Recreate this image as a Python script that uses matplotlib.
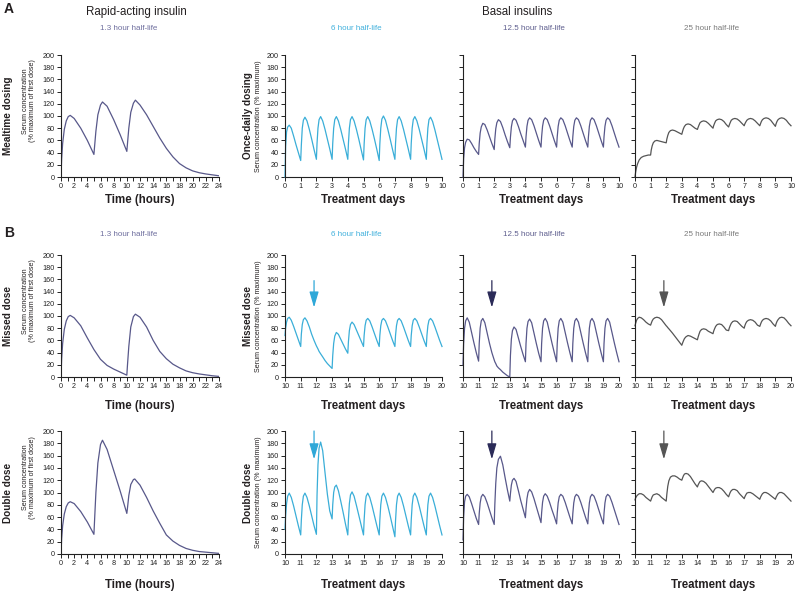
import matplotlib.pyplot as plt
from matplotlib.ticker import MultipleLocator

plt.rcParams['font.family'] = ['Liberation Sans', 'DejaVu Sans']

W, H = 796, 591

# ---- rapid-acting insulin (1.3 h half-life), hours 0-24 ----
mealtime_hours = [0, 0.1, 0.25, 0.5, 0.8, 1.1, 1.4, 2, 3, 4, 5, 5.1, 5.3, 5.6, 6.0, 6.3, 7, 8, 9, 10,
                  10.1, 10.3, 10.6, 11.0, 11.3, 12, 13, 14, 15, 16, 17, 18, 19, 20, 21, 22, 23, 24]
mealtime_conc = [0, 30, 55, 78, 92, 99, 101, 96, 80, 60, 37, 50, 75, 102, 118, 123, 116, 94, 69, 42,
                 55, 80, 106, 121, 126, 118, 102, 83, 64, 47, 33, 22, 15, 10, 7, 5, 3.5, 2]

missed_hours = [0, 0.1, 0.25, 0.5, 0.8, 1.1, 1.4, 2, 3, 4, 5, 6, 7, 8, 9, 10,
                10.1, 10.3, 10.6, 11.0, 11.3, 12, 13, 14, 15, 16, 17, 18, 19, 20, 21, 22, 23, 24]
missed_conc = [0, 30, 55, 78, 92, 99, 101, 97, 84, 64, 45, 29, 19, 13, 8, 3,
               20, 50, 82, 99, 103, 98, 82, 60, 42, 30, 21, 15, 10, 7, 5, 3.5, 2, 1]

double_hours = [0, 0.1, 0.25, 0.5, 0.8, 1.1, 1.4, 2, 3, 4, 5, 5.1, 5.3, 5.6, 6.0, 6.3, 7, 8, 9, 10,
                10.1, 10.3, 10.6, 11.0, 11.2, 12, 13, 14, 15, 16, 17, 18, 19, 20, 21, 22, 23, 24]
double_conc = [0, 25, 46, 65, 77, 83, 85, 82, 69, 52, 32, 55, 100, 148, 178, 185, 170, 136, 102, 66,
               75, 95, 113, 121, 122, 112, 92, 70, 50, 31, 21, 14, 9, 6, 4, 3, 2, 1]

# ---- basal insulins: values sampled at these fractions of each treatment day ----
day_offsets = [0, 0.04, 0.1, 0.17, 0.27, 0.4, 0.55, 0.7, 0.85]

# once-daily dosing, days 0-10
h6_once = [[0, 50, 74, 82, 85, 80, 67, 53, 40],
           [27, 52, 80, 93, 98, 92, 78, 62, 45],
           [29, 55, 80, 94, 99, 92, 78, 62, 46],
           [29, 55, 80, 94, 99, 92, 78, 62, 46],
           [29, 55, 80, 94, 99, 92, 78, 62, 45],
           [28, 54, 80, 94, 99, 92, 78, 62, 45],
           [27, 54, 80, 95, 100, 93, 78, 62, 45],
           [29, 55, 80, 94, 99, 92, 78, 62, 46],
           [29, 55, 80, 94, 99, 92, 78, 62, 46],
           [29, 55, 80, 94, 98, 91, 77, 61, 45]]
h6_once_end = 29

h12_once = [[0, 30, 48, 57, 62, 61, 55, 48, 42],
            [37, 55, 72, 82, 88, 86, 77, 66, 55],
            [45, 62, 79, 89, 94, 91, 81, 69, 58],
            [48, 65, 82, 92, 96, 93, 83, 71, 60],
            [49, 66, 83, 93, 97, 94, 84, 72, 60],
            [49, 66, 83, 93, 97, 94, 84, 72, 60],
            [49, 66, 83, 93, 97, 94, 84, 72, 60],
            [49, 66, 83, 93, 97, 94, 84, 72, 60],
            [49, 66, 83, 93, 97, 94, 84, 72, 60],
            [49, 66, 83, 93, 97, 94, 84, 72, 60]]
h12_once_end = 49

h25_once = [[0, 8, 16, 22, 28, 32, 34, 35, 36],
            [36, 44, 51, 56, 59, 60, 59, 58, 57],
            [56, 62, 68, 73, 76, 77, 76, 74, 72],
            [70, 74, 79, 83, 86, 87, 86, 83, 80],
            [78, 81, 85, 89, 91, 92, 91, 88, 84],
            [80, 84, 88, 92, 94, 95, 94, 91, 86],
            [82, 85, 89, 93, 95, 96, 95, 92, 88],
            [84, 87, 90, 93, 95, 96, 95, 92, 88],
            [84, 87, 91, 94, 96, 97, 96, 93, 88],
            [83, 87, 91, 94, 96, 97, 96, 93, 88]]
h25_once_end = 84

# missed dose, days 10-20
h6_missed = [[68, 80, 90, 96, 98, 93, 83, 72, 61],
             [50, 70, 86, 94, 97, 92, 82, 70, 60],
             [51, 49, 46, 42, 38, 33, 27, 22, 18],
             [14, 35, 55, 67, 73, 70, 62, 54, 46],
             [39, 58, 76, 86, 90, 86, 77, 68, 59],
             [50, 68, 84, 93, 96, 92, 82, 71, 60],
             [50, 68, 84, 93, 96, 92, 82, 71, 60],
             [50, 68, 84, 93, 96, 92, 82, 71, 60],
             [50, 68, 84, 93, 96, 92, 82, 71, 60],
             [50, 68, 84, 93, 96, 92, 82, 71, 60]]
h6_missed_end = 50

h12_missed = [[20, 55, 80, 92, 97, 90, 73, 56, 40],
              [26, 55, 80, 92, 96, 89, 72, 55, 40],
              [28, 25, 22, 18, 15, 12, 8, 5, 2],
              [0, 35, 62, 76, 82, 78, 64, 50, 37],
              [25, 55, 80, 91, 95, 89, 72, 55, 39],
              [25, 55, 80, 92, 96, 90, 73, 56, 40],
              [25, 55, 80, 92, 96, 90, 73, 56, 40],
              [25, 55, 80, 92, 96, 90, 73, 56, 40],
              [25, 55, 80, 92, 96, 90, 73, 56, 40],
              [25, 55, 80, 92, 96, 90, 73, 56, 40]]
h12_missed_end = 25

h25_missed = [[84, 88, 93, 96, 98, 97, 94, 90, 87],
              [85, 88, 92, 95, 97, 98, 97, 94, 89],
              [84, 83, 81, 79, 76, 72, 67, 62, 57],
              [52, 55, 59, 63, 66, 68, 67, 65, 63],
              [61, 65, 70, 75, 78, 79, 78, 75, 73],
              [71, 75, 79, 83, 86, 87, 86, 82, 77],
              [76, 80, 84, 88, 91, 92, 91, 87, 83],
              [80, 84, 88, 91, 93, 94, 93, 90, 85],
              [83, 86, 90, 93, 95, 96, 95, 92, 87],
              [83, 87, 91, 94, 97, 98, 97, 93, 88]]
h25_missed_end = 84

# double dose, days 10-20
h6_double = [[40, 62, 82, 94, 99, 92, 78, 62, 46],
             [31, 55, 80, 94, 99, 92, 78, 62, 46],
             [32, 95, 145, 172, 182, 168, 132, 97, 70],
             [57, 80, 100, 109, 112, 103, 86, 68, 49],
             [31, 56, 82, 96, 101, 94, 79, 63, 47],
             [31, 55, 80, 94, 99, 92, 78, 62, 46],
             [31, 55, 80, 94, 99, 92, 78, 62, 45],
             [28, 54, 80, 94, 99, 92, 78, 62, 46],
             [31, 55, 80, 94, 99, 92, 78, 62, 46],
             [31, 55, 80, 94, 99, 92, 78, 62, 46]]
h6_double_end = 31

h12_double = [[23, 60, 85, 94, 97, 93, 82, 70, 58],
              [48, 66, 83, 93, 97, 93, 83, 71, 59],
              [48, 80, 115, 140, 154, 159, 145, 124, 104],
              [86, 98, 112, 120, 123, 118, 103, 87, 73],
              [59, 74, 90, 100, 105, 101, 90, 77, 64],
              [51, 67, 84, 94, 98, 94, 84, 72, 61],
              [49, 66, 83, 93, 97, 94, 84, 72, 60],
              [49, 66, 83, 93, 97, 94, 84, 72, 60],
              [49, 66, 83, 93, 97, 94, 84, 72, 60],
              [49, 66, 83, 93, 97, 94, 84, 72, 60]]
h12_double_end = 48

h25_double = [[88, 91, 94, 96, 98, 98, 96, 92, 89],
              [86, 89, 93, 96, 97, 98, 96, 92, 89],
              [86, 97, 110, 119, 125, 127, 127, 125, 122],
              [120, 123, 127, 130, 131, 130, 126, 120, 114],
              [109, 112, 115, 118, 119, 118, 115, 110, 105],
              [100, 102, 105, 107, 108, 108, 106, 102, 97],
              [93, 96, 100, 103, 105, 105, 103, 98, 94],
              [90, 93, 96, 99, 100, 100, 98, 95, 92],
              [89, 92, 95, 98, 100, 100, 98, 95, 92],
              [89, 92, 95, 98, 100, 100, 98, 94, 90]]
h25_double_end = 86

# day on which the missed / double dose happens (arrow)
event_day = 11.85

slate = '#58588a'
cyan = '#3aaed8'
gray = '#555555'
arrow_colors = ['#2fa8d8', '#2b2b58', '#555555']
line_colors = [cyan, slate, gray]
sub_colors = ['#6e6e9e', '#40b0dc', '#5e5e8e', '#7a7a7a']
sub_texts = ['1.3 hour half-life', '6 hour half-life', '12.5 hour half-life', '25 hour half-life']
text_col = '#231f20'


def day_curve(start, days, end_value):
    xs, ys = [], []
    for i, vals in enumerate(days):
        xs += [start + i + o for o in day_offsets]
        ys += vals
    xs.append(start + len(days))
    ys.append(end_value)
    return xs, ys


fig = plt.figure(figsize=(W / 100, H / 100), dpi=100)


def px_axes(left, top, right, bottom):
    return fig.add_axes([left / W, 1 - bottom / H, (right - left) / W, (bottom - top) / H])


def ftext(x, y, s, **kw):
    fig.text(x / W, 1 - y / H, s, color=kw.pop('color', text_col), **kw)


col_x = [(61, 219), (285, 442), (463, 619), (635, 791)]
row_y = [(55, 177), (255, 377), (431, 554)]

rapid = [(mealtime_hours, mealtime_conc), (missed_hours, missed_conc), (double_hours, double_conc)]
basal = [
    [day_curve(0, h6_once, h6_once_end), day_curve(0, h12_once, h12_once_end), day_curve(0, h25_once, h25_once_end)],
    [day_curve(10, h6_missed, h6_missed_end), day_curve(10, h12_missed, h12_missed_end),
     day_curve(10, h25_missed, h25_missed_end)],
    [day_curve(10, h6_double, h6_double_end), day_curve(10, h12_double, h12_double_end),
     day_curve(10, h25_double, h25_double_end)],
]
arrow_span = [None, (158, 114), (200, 154)]

for r in range(3):
    top, bottom = row_y[r]
    for c in range(4):
        ax = px_axes(col_x[c][0], top, col_x[c][1], bottom)
        for side in ['top', 'right']:
            ax.spines[side].set_visible(False)
        for side in ['left', 'bottom']:
            ax.spines[side].set_linewidth(0.8)
            ax.spines[side].set_color('#222222')
        ax.set_ylim(0, 200)
        ax.yaxis.set_major_locator(MultipleLocator(20))
        ax.tick_params(direction='out', length=3, width=0.7, labelsize=5.2, pad=1.5,
                       colors='#222222')
        ax.tick_params(which='minor', direction='out', length=3, width=0.7, colors='#222222')
        if c == 0:
            hx, hy = rapid[r]
            ax.plot(hx, hy, color=slate, lw=0.9)
            ax.set_xlim(0, 24)
            ax.xaxis.set_major_locator(MultipleLocator(2))
            ax.xaxis.set_minor_locator(MultipleLocator(1))
        else:
            dx, dy = basal[r][c - 1]
            ax.plot(dx, dy, color=line_colors[c - 1], lw=0.9, clip_on=False)
            start = 0 if r == 0 else 10
            ax.set_xlim(start, start + 10)
            ax.xaxis.set_major_locator(MultipleLocator(1))
            if arrow_span[r] is not None:
                y0, y1 = arrow_span[r]
                ax.annotate('', xy=(event_day, y1), xytext=(event_day, y0),
                            arrowprops=dict(arrowstyle='-|>,head_length=0.95,head_width=0.28',
                                            color=arrow_colors[c - 1], lw=0.9,
                                            shrinkA=0, shrinkB=0))
        if c >= 2:
            ax.tick_params(labelleft=False)

# column headers
ftext(136, 12, 'Rapid-acting insulin', fontsize=8.3, ha='center', va='center')
ftext(517, 12, 'Basal insulins', fontsize=8.3, ha='center', va='center')
sub_x = [129, 356, 534, 712]
for sy in [29, 235]:
    for i in range(4):
        ftext(sub_x[i], sy, sub_texts[i], fontsize=5.8, ha='center', va='center', color=sub_colors[i])

# panel letters
ftext(4, 9, 'A', fontsize=10, fontweight='bold', ha='left', va='center')
ftext(4, 233, 'B', fontsize=10, fontweight='bold', ha='left', va='center')

# row labels and y-axis labels
row_names = [('Mealtime dosing', 'Once-daily dosing'), ('Missed dose', 'Missed dose'),
             ('Double dose', 'Double dose')]
for r in range(3):
    top, bottom = row_y[r]
    mid = (top + bottom) / 2
    ftext(8, mid, row_names[r][0], fontsize=7.2, fontweight='bold', rotation=90, ha='center', va='center')
    ftext(248, mid, row_names[r][1], fontsize=7.2, fontweight='bold', rotation=90, ha='center', va='center')
    ftext(29, mid - 15, 'Serum concentration\n(% maximum of first dose)', fontsize=5.1, rotation=90,
          ha='center', va='center', linespacing=1.1)
    ftext(258, mid, 'Serum concentration (% maximum)', fontsize=5.1, rotation=90, ha='center', va='center')

# x-axis labels
xl_y = [200, 406, 585]
for r in range(3):
    ftext(140, xl_y[r], 'Time (hours)', fontsize=8.3, fontweight='bold', ha='center', va='center')
    for c in range(1, 4):
        ftext((col_x[c][0] + col_x[c][1]) / 2, xl_y[r], 'Treatment days', fontsize=8.3,
              fontweight='bold', ha='center', va='center')

fig.savefig('out.png', dpi=100, facecolor='white')
